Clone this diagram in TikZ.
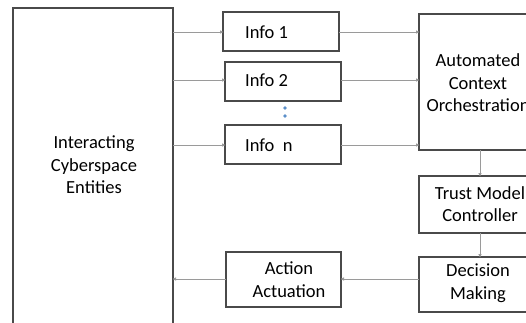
\documentclass[tikz,border=0pt]{standalone}
\usepackage{fontspec}
\setmainfont{Carlito}
\usetikzlibrary{arrows.meta}
\definecolor{boxc}{HTML}{4A4A4A}
\definecolor{linec}{HTML}{9A9A9A}
\definecolor{dotc}{HTML}{5B8FC9}
\begin{document}
\begin{tikzpicture}[x=1pt,y=-1pt,
  blk/.style={draw=boxc,line width=1.1pt,fill=white},
  lbl/.style={font=\fontsize{18.5}{22.5}\selectfont,align=center,inner sep=0pt,text=black},
  conn/.style={draw=linec,line width=1pt,-{Stealth[length=3.5pt,width=3pt,inset=0pt]},shorten >=-0.5pt}]
\clip (0,0) rectangle (526,322);
\fill[white] (0,0) rectangle (526,322);
% boxes
\draw[blk] (13,8) rectangle (173,340);
\coordinate (leftR1) at (173,32);
\coordinate (leftR2) at (173,80);
\coordinate (leftRn) at (173,145);
\coordinate (leftRa) at (173,279);
\node[lbl] (ent) at (94,165) {Interacting\\Cyberspace\\Entities};

\draw[blk] (223,12) rectangle (339,51);
\coordinate (i1L) at (223,32); \coordinate (i1R) at (339,32);
\node[lbl,anchor=west] (i1) at (245,32) {Info 1};

\draw[blk] (225,62) rectangle (341,101);
\coordinate (i2L) at (225,80); \coordinate (i2R) at (341,80);
\node[lbl,anchor=west] (i2) at (245,80) {Info 2};

\node[circle,fill=dotc,inner sep=0pt,minimum size=3.6pt] (d1) at (285,108) {};
\node[circle,fill=dotc,inner sep=0pt,minimum size=3.6pt] (d2) at (285,116) {};

\draw[blk] (225,125) rectangle (341,164);
\coordinate (inL) at (225,145); \coordinate (inR) at (341,145);
\node[lbl,anchor=west] (in) at (245,145) {Info\ \ n};

\draw[blk] (419,14) rectangle (537,150);
\coordinate (acoL1) at (419,32); \coordinate (acoL2) at (419,80); \coordinate (acoLn) at (419,145);
\coordinate (acoB) at (480,150);
\node[lbl] (aco) at (478,83) {Automated\\Context\\Orchestration};

\draw[blk] (419,176) rectangle (537,233);
\coordinate (tmcT) at (480,176); \coordinate (tmcB) at (480,233);
\node[lbl] (tmc) at (480,204) {Trust Model\\Controller};

\draw[blk] (419,257) rectangle (537,312);
\coordinate (dmT) at (480,257); \coordinate (dmL) at (419,279);
\node[lbl] (dm) at (478,283) {Decision\\Making};

\draw[blk] (226,252) rectangle (341,307);
\coordinate (aaL) at (226,279); \coordinate (aaR) at (341,279);
\node[lbl] (aa) at (289,279.5) {Action\\Actuation};

% connectors
\draw[conn] (leftR1) -- (i1L);
\draw[conn] (leftR2) -- (i2L);
\draw[conn] (leftRn) -- (inL);
\draw[conn] (i1R) -- (acoL1);
\draw[conn] (i2R) -- (acoL2);
\draw[conn] (inR) -- (acoLn);
\draw[conn] (acoB) -- (tmcT);
\draw[conn] (tmcB) -- (dmT);
\draw[conn] (dmL) -- (aaR);
\draw[conn] (aaL) -- (leftRa);
\end{tikzpicture}
\end{document}
